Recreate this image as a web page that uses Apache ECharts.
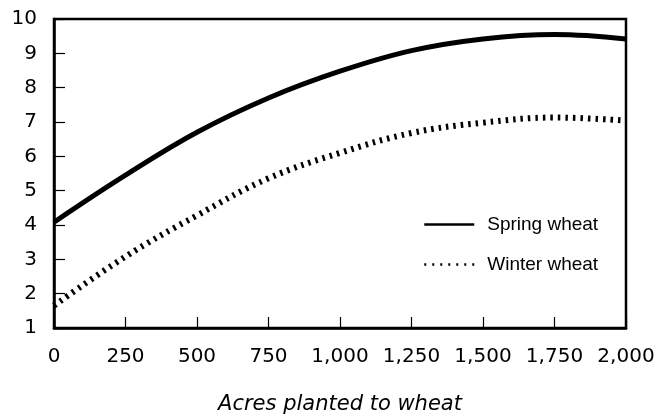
<!DOCTYPE html>
<html>
<head>
<meta charset="utf-8">
<script src="https://cdn.jsdelivr.net/npm/echarts@6/dist/echarts.min.js"></script>
<style>
  html, body { margin: 0; padding: 0; background: #fff; }
  #chart { width: 670px; height: 420px; }
</style>
</head>
<body>
<div id="chart"></div>
<script>
// 数据
var acres = [0, 250, 500, 750, 1000, 1250, 1500, 1750, 2000];
var springWheat = [4.08, 5.45, 6.7, 7.7, 8.48, 9.08, 9.42, 9.55, 9.42];
var winterWheat = [1.65, 3.08, 4.28, 5.36, 6.1, 6.68, 6.98, 7.13, 7.04];
var seriesNames = ['Spring wheat', 'Winter wheat'];
var xTitle = 'Acres planted to wheat';

function pairs(xs, ys) {
    var out = [];
    for (var i = 0; i < xs.length; i++) {
        out.push([xs[i], ys[i]]);
    }
    return out;
}

var myChart = echarts.init(document.getElementById('chart'));
var option = {
    animation: false,
    backgroundColor: '#fff',
    grid: {
        left: 54, right: 44, top: 19, bottom: 91,
        show: true,
        borderColor: '#000',
        borderWidth: 2.5
    },
    legend: {
        orient: 'vertical',
        left: 423,
        top: 215,
        padding: 0,
        itemWidth: 50,
        itemHeight: 16,
        itemGap: 21,
        itemStyle: { opacity: 0 },   // 只显示线
        textStyle: {
            fontFamily: 'Liberation Sans',
            fontSize: 19,
            color: '#000',
            padding: [0, 0, 0, 8]
        },
        data: [
            { name: seriesNames[0], lineStyle: { width: 2.5, type: 'solid' } },
            { name: seriesNames[1], lineStyle: { width: 2.5, type: [2, 6] } }
        ]
    },
    xAxis: {
        type: 'value',
        min: 0,
        max: 2000,
        interval: 250,
        name: xTitle,
        nameLocation: 'middle',
        nameGap: 66,
        nameTextStyle: {
            fontFamily: 'DejaVu Sans',
            fontStyle: 'italic',
            fontSize: 21,
            color: '#000'
        },
        axisLine: { lineStyle: { color: '#000', width: 2.5 } },
        axisTick: { inside: true, length: 11, lineStyle: { color: '#000', width: 1.2 } },
        axisLabel: {
            fontFamily: 'DejaVu Sans',
            fontSize: 20,
            color: '#000',
            margin: 19,
            formatter: function (v) { return v.toLocaleString('en-US'); }
        },
        splitLine: { show: false }
    },
    yAxis: {
        type: 'value',
        min: 1,
        max: 10,
        interval: 1,
        axisLine: { show: true, lineStyle: { color: '#000', width: 2.5 } },
        axisTick: { show: true, inside: true, length: 11, lineStyle: { color: '#000', width: 1.2 } },
        axisLabel: {
            fontFamily: 'DejaVu Sans',
            fontSize: 20,
            color: '#000',
            margin: 17
        },
        splitLine: { show: false }
    },
    series: [
        {
            name: seriesNames[0],
            type: 'line',
            smooth: 0.4,
            symbol: 'none',
            data: pairs(acres, springWheat),
            lineStyle: { color: '#000', width: 5 },
            itemStyle: { color: '#000' }
        },
        {
            name: seriesNames[1],
            type: 'line',
            smooth: 0.4,
            symbol: 'none',
            data: pairs(acres, winterWheat),
            lineStyle: { color: '#000', width: 6, type: [2.5, 5], cap: 'butt' },
            itemStyle: { color: '#000' }
        }
    ]
};
myChart.setOption(option);
</script>
</body>
</html>
